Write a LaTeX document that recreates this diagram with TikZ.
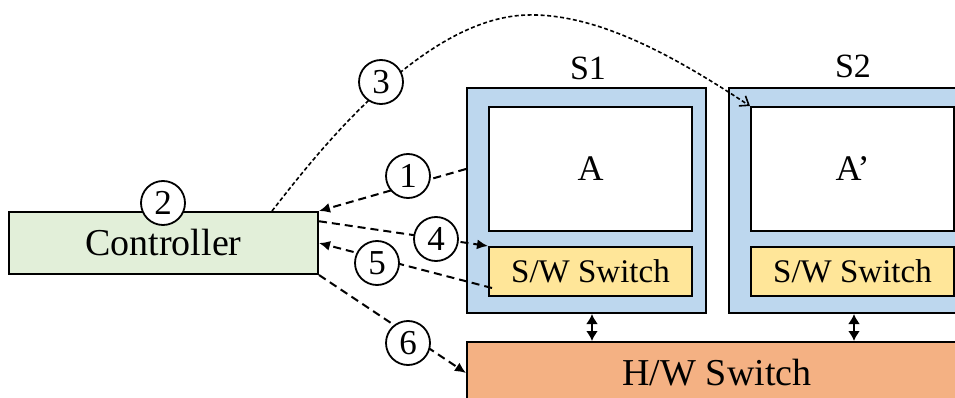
\documentclass[tikz,border=0pt]{standalone}
\usepackage{fontspec}
\setmainfont{Liberation Serif}
\usetikzlibrary{arrows.meta,calc}
\definecolor{ctrlgreen}{HTML}{E2EFD9}
\definecolor{hostblue}{HTML}{BDD7EE}
\definecolor{swyellow}{HTML}{FFE699}
\definecolor{hworange}{HTML}{F4B183}
\tikzset{
  box/.style={draw=black, line width=2pt, inner sep=0pt, anchor=center},
  num/.style={draw=black, fill=white, circle, line width=1.8pt, minimum size=44pt,
              inner sep=0pt, font=\fontsize{35}{35}\selectfont},
  msg/.style={line width=2pt, dash pattern=on 8pt off 5pt,
              -{Latex[length=11pt,width=10pt]}},
  migrate/.style={line width=1.6pt, dash pattern=on 4pt off 2.5pt,
              -{Straight Barb[length=8pt,width=12pt]}},
  link/.style={line width=2.5pt, {Latex[length=10pt,width=12pt]}-{Latex[length=10pt,width=12pt]}},
}
\begin{document}
\begin{tikzpicture}[x=1pt,y=-1pt]
\useasboundingbox (0,0) rectangle (955,398);
\clip (0,0) rectangle (955,398);

% controller
\node[box, fill=ctrlgreen, minimum width=309pt, minimum height=62pt,
      font=\fontsize{38}{38}\selectfont] (C) at (163.5,243) {Controller};

% server S1
\node[box, fill=hostblue, minimum width=239pt, minimum height=225pt] (S1) at (586.5,200.5) {};
\node[box, fill=white, minimum width=203pt, minimum height=124pt,
      font=\fontsize{36}{36}\selectfont] (A) at (590.5,169) {A};
\node[box, fill=swyellow, minimum width=203pt, minimum height=49pt,
      font=\fontsize{33}{33}\selectfont] (SW1) at (590.5,271.5) {S/W Switch};
\node[font=\fontsize{34}{34}\selectfont] (L1) at (588,68) {S1};

% server S2
\node[box, fill=hostblue, minimum width=239pt, minimum height=225pt] (S2) at (848.5,200.5) {};
\node[box, fill=white, minimum width=203pt, minimum height=124pt,
      font=\fontsize{36}{36}\selectfont] (A2) at (852.5,169) {A’};
\node[box, fill=swyellow, minimum width=203pt, minimum height=49pt,
      font=\fontsize{33}{33}\selectfont] (SW2) at (852.5,271.5) {S/W Switch};
\node[font=\fontsize{34}{34}\selectfont] (L2) at (853,66) {S2};

% hardware switch
\node[box, fill=hworange, minimum width=500pt, minimum height=62pt,
      font=\fontsize{38}{38}\selectfont] (HW) at (717,373) {\raisebox{-4pt}{H/W Switch}};

% links between servers and the hardware switch
\draw[link] ([xshift=5.5pt]S1.south) -- ([xshift=5.5pt]S1.south |- HW.north);
\draw[link] ([xshift=5.5pt]S2.south) -- ([xshift=5.5pt]S2.south |- HW.north);

% control messages
\coordinate (c3) at ($(C.north west)+(264,0)$);
\coordinate (c4) at ($(C.north east)!0.16!(C.south east)$);
\coordinate (c5) at ($(SW1.south west)+(4,-9)$);
\draw[msg] (S1.west |- A) -- (C.north east);
\draw[msg] (c4) -- (SW1.north west);
\draw[msg] (c5) -- (C.east);
\draw[msg] (C.south east) -- (HW.west);
\draw[migrate] (c3) .. controls (312,160) and (420,18) .. (527,15)
                    .. controls (600,13) and (680,60) .. (A2.north west);

% step numbers
\node[num] (n1) at (408,176) {1};
\node[num] (n2) at (163,203) {2};
\node[num] (n3) at (381,82) {3};
\node[num] (n4) at (436,239) {4};
\node[num] (n5) at (377,263) {5};
\node[num] (n6) at (408,343) {6};
\end{tikzpicture}
\end{document}
